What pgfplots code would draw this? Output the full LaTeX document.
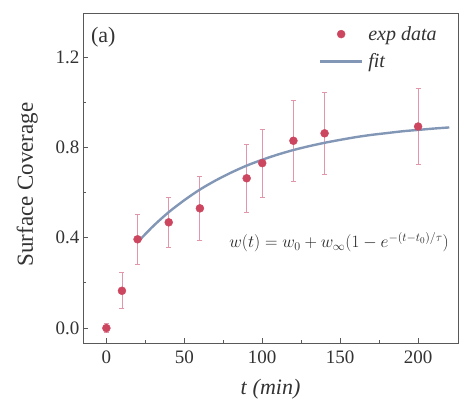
\documentclass[border=0pt]{standalone}
\usepackage{fontspec}
\setmainfont{Liberation Serif}
\usepackage{pgfplots}
\pgfplotsset{compat=1.18}
\definecolor{ptred}{RGB}{205,70,95}
\definecolor{errred}{RGB}{225,150,170}
\definecolor{fitblue}{RGB}{130,150,182}
\begin{document}
\begin{tikzpicture}
\begin{axis}[
  name=ax,
  scale only axis,
  width=375pt, height=329pt,
  xmin=-15, xmax=225.6,
  ymin=-0.066, ymax=1.39,
  xtick={0,50,100,150,200},
  minor xtick={25,75,125,175},
  ytick={0,0.4,0.8,1.2},
  minor ytick={0.2,0.6,1.0},
  yticklabel style={/pgf/number format/.cd,fixed,fixed zerofill,precision=1},
  /pgf/number format/assume math mode=true,
  tick pos=left,
  tick align=inside,
  major tick length=5pt, minor tick length=3pt,
  axis line style={draw=black!65, line width=1pt},
  every tick/.style={black!65, line width=0.8pt},
  ticklabel style={font=\fontsize{19}{20}\selectfont, text=black!80},
  xticklabel style={yshift=-4pt},
  xlabel={\textit{t} \textit{(min)}},
  ylabel={Surface Coverage},
  xlabel style={font=\fontsize{22}{24}\selectfont, text=black!80, yshift=-9pt},
  ylabel style={font=\fontsize{23}{24}\selectfont, text=black!80, yshift=11pt, xshift=-6pt},
  legend style={draw=none, fill=none, at={(0.965,0.975)}, anchor=north east,
    font=\fontsize{20}{21}\selectfont\itshape, text=black!80,
    row sep=8pt, nodes={inner xsep=5pt}},
  legend cell align=left,
]
\addplot+[only marks, mark=*, mark size=4pt, color=ptred,
  mark options={fill=ptred, draw=ptred},
  legend image code/.code={\path[draw=none,fill=none] (0pt,0pt) -- (42pt,0pt); \fill[ptred] (21pt,0pt) circle (4pt);},
  error bars/.cd, y dir=both, y explicit,
  error bar style={errred, line width=0.9pt},
  error mark options={rotate=90, mark size=2.5pt, errred, line width=0.9pt}]
  coordinates {
  (0,0.0) +- (0,0.02)
  (10,0.165) +- (0,0.08)
  (20,0.393) +- (0,0.11)
  (40,0.468) +- (0,0.11)
  (60,0.530) +- (0,0.14)
  (90,0.663) +- (0,0.15)
  (100,0.730) +- (0,0.15)
  (120,0.829) +- (0,0.18)
  (140,0.862) +- (0,0.18)
  (200,0.892) +- (0,0.17)
  };
\addlegendentry{exp data}
\addplot[fitblue, line width=2.4pt, smooth, no markers,
  legend image code/.code={\draw[fitblue,line width=2.4pt] (0pt,0pt) -- (42pt,0pt);}] coordinates {
  (20,0.380) (30,0.451) (40,0.513) (50,0.566) (60,0.613) (70,0.653)
  (80,0.688) (90,0.719) (100,0.745) (110,0.768) (120,0.788) (130,0.805)
  (140,0.820) (150,0.833) (160,0.845) (170,0.855) (180,0.863) (190,0.871)
  (200,0.877) (210,0.883) (220,0.888)
  };
\addlegendentry{fit}
\node[anchor=north west, font=\fontsize{22}{23}\selectfont, text=black!80] at (rel axis cs:0.012,0.97) {(a)};
\node[anchor=east, font=\fontsize{18}{19}\selectfont, text=black!85] at (axis cs:222,0.38) {$w(t)=w_0+w_\infty(1-e^{-(t-t_0)/\tau})$};
\end{axis}
\pgfresetboundingbox
\path[use as bounding box] ([xshift=-83pt,yshift=-58pt]ax.south west) rectangle ([xshift=6pt,yshift=14pt]ax.north east);
\end{tikzpicture}
\end{document}
